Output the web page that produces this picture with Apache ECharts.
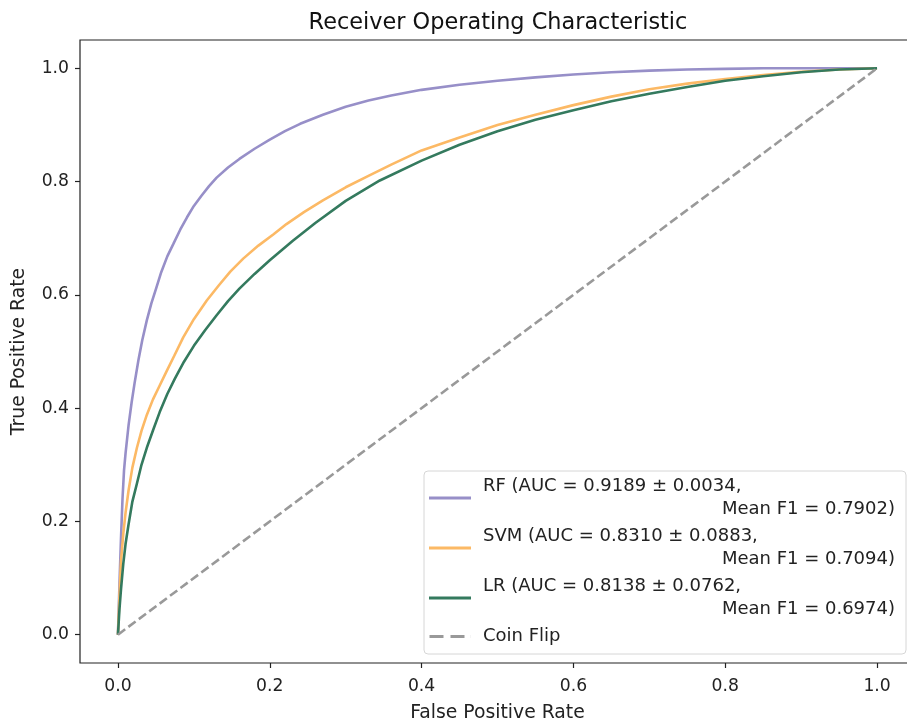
<!DOCTYPE html>
<html>
<head>
    <meta charset="utf-8">
    <title>ROC</title>
    <script src="https://cdn.jsdelivr.net/npm/echarts@6/dist/echarts.min.js"></script>
    <style>
        html, body { margin: 0; padding: 0; background: #fff; }
    </style>
</head>
<body>
    <div id="main" style="width: 907px;height:719px;"></div>
    <script type="text/javascript">
        // values
        var fprRF = [0, 0.002, 0.004, 0.006, 0.008, 0.01, 0.014, 0.018, 0.022, 0.027, 0.032, 0.038, 0.044, 0.05, 0.057, 0.065, 0.073, 0.082, 0.091, 0.1, 0.11, 0.12, 0.13, 0.145, 0.16, 0.18, 0.2, 0.22, 0.24, 0.27, 0.3, 0.33, 0.36, 0.4, 0.45, 0.5, 0.55, 0.6, 0.65, 0.7, 0.75, 0.8, 0.85, 0.9, 0.95, 1.0];
        var tprRF = [0, 0.09, 0.17, 0.24, 0.29, 0.32, 0.37, 0.41, 0.445, 0.485, 0.52, 0.555, 0.585, 0.61, 0.64, 0.668, 0.69, 0.715, 0.737, 0.757, 0.775, 0.792, 0.807, 0.825, 0.84, 0.858, 0.874, 0.889, 0.902, 0.918, 0.932, 0.943, 0.952, 0.962, 0.971, 0.978, 0.984, 0.989, 0.993, 0.996, 0.998, 0.999, 1.0, 1.0, 1.0, 1.0];

        var fprSVM = [0, 0.002, 0.004, 0.007, 0.01, 0.014, 0.019, 0.025, 0.031, 0.038, 0.046, 0.055, 0.064, 0.074, 0.086, 0.1, 0.117, 0.133, 0.148, 0.165, 0.185, 0.205, 0.222, 0.245, 0.27, 0.3, 0.33, 0.36, 0.4, 0.45, 0.5, 0.55, 0.6, 0.65, 0.7, 0.75, 0.8, 0.85, 0.9, 0.95, 1.0];
        var tprSVM = [0, 0.07, 0.13, 0.178, 0.215, 0.255, 0.295, 0.33, 0.36, 0.388, 0.415, 0.44, 0.465, 0.492, 0.525, 0.557, 0.59, 0.617, 0.641, 0.664, 0.687, 0.707, 0.725, 0.746, 0.767, 0.79, 0.81, 0.83, 0.855, 0.878, 0.9, 0.918, 0.935, 0.95, 0.963, 0.973, 0.981, 0.988, 0.994, 0.998, 1.0];

        var fprLR = [0, 0.002, 0.004, 0.007, 0.01, 0.014, 0.019, 0.025, 0.031, 0.038, 0.046, 0.055, 0.065, 0.075, 0.087, 0.1, 0.115, 0.13, 0.145, 0.16, 0.18, 0.2, 0.23, 0.26, 0.3, 0.345, 0.4, 0.45, 0.5, 0.55, 0.6, 0.65, 0.7, 0.75, 0.8, 0.85, 0.9, 0.95, 1.0];
        var tprLR = [0, 0.045, 0.08, 0.125, 0.16, 0.195, 0.235, 0.267, 0.3, 0.33, 0.36, 0.393, 0.425, 0.452, 0.482, 0.51, 0.538, 0.564, 0.589, 0.611, 0.637, 0.661, 0.695, 0.727, 0.766, 0.802, 0.837, 0.865, 0.889, 0.909, 0.926, 0.942, 0.955, 0.967, 0.978, 0.986, 0.993, 0.998, 1.0];

        var fprCoin = [0, 1];
        var tprCoin = [0, 1];

        var tickValues = [0, 0.2, 0.4, 0.6, 0.8, 1.0];

        var names = ['RF', 'SVM', 'LR', 'Coin Flip'];
        var line1 = ['RF (AUC = 0.9189 \u00b1 0.0034,', 'SVM (AUC = 0.8310 \u00b1 0.0883,', 'LR (AUC = 0.8138 \u00b1 0.0762,', 'Coin Flip'];
        var line2 = ['Mean F1 = 0.7902)', 'Mean F1 = 0.7094)', 'Mean F1 = 0.6974)', ''];
        var colors = ['#978fc8', '#fcb965', '#347a5e', '#999999'];

        // legend keys: plain line, and two dashes for the coin flip
        var solidIcon = 'path://M0,0H42V3H0Z';
        var dashIcon = 'path://M1,0H15V3H1Z M22,0H36V3H22Z M41.9,0H42V3H41.9Z';

        function pairs(xs, ys) {
            var out = [];
            for (var i = 0; i < xs.length; i++) out.push([xs[i], ys[i]]);
            return out;
        }

        var font = 'DejaVu Sans';
        var tickFont = 17.2;
        var legendFont = 18;
        var myChart = echarts.init(document.getElementById('main'));

        var option = {
            animation: false,
            textStyle: { fontFamily: font },
            title: {
                text: 'Receiver Operating Characteristic',
                left: 493,
                textAlign: 'center',
                top: 7,
                textStyle: { fontFamily: font, fontSize: 22.4, fontWeight: 'normal', color: '#111' }
            },
            grid: {
                left: 80, width: 835, top: 40, bottom: 56,
                outerBoundsMode: 'none',
                show: true, borderColor: '#222', borderWidth: 1.2,
                containLabel: false
            },
            legend: {
                orient: 'vertical',
                left: 424, top: 471,
                padding: [4, 11, 6, 5],
                itemWidth: 42, itemHeight: 3, itemGap: 4,
                backgroundColor: 'rgba(255,255,255,0.8)',
                borderColor: '#d6d6d6', borderWidth: 1, borderRadius: 4,
                data: names.map(function (n, i) {
                    return { name: n, icon: i === 3 ? dashIcon : solidIcon };
                }),
                formatter: function (name) {
                    var i = names.indexOf(name);
                    if (!line2[i]) return '{a|' + line1[i] + '}';
                    return '{a|' + line1[i] + '}\n{b|' + line2[i] + '}';
                },
                textStyle: {
                    fontFamily: font, fontSize: legendFont, lineHeight: 23, color: '#222', width: 412, padding: [0, 0, 0, 7],
                    rich: {
                        a: { fontFamily: font, fontSize: legendFont, lineHeight: 23, height: 23, color: '#222' },
                        b: { fontFamily: font, fontSize: legendFont, lineHeight: 23, height: 23, color: '#222', align: 'right' }
                    }
                }
            },
            xAxis: {
                type: 'value', min: -0.05, max: 1.05,
                name: 'False Positive Rate', nameLocation: 'middle', nameGap: 41,
                nameTextStyle: { fontFamily: font, fontSize: 18.8, color: '#222' },
                splitLine: { show: false },
                axisLine: { show: false, onZero: false },
                axisTick: { show: true, length: 5, customValues: tickValues, lineStyle: { color: '#222', width: 1.2 } },
                axisLabel: {
                    customValues: tickValues, fontFamily: font, fontSize: tickFont, color: '#222', margin: 15,
                    formatter: function (v) { return v.toFixed(1); }
                }
            },
            yAxis: {
                type: 'value', min: -0.05, max: 1.05,
                name: 'True Positive Rate', nameLocation: 'middle', nameGap: 51,
                nameTextStyle: { fontFamily: font, fontSize: 18.8, color: '#222' },
                splitLine: { show: false },
                axisLine: { show: false, onZero: false },
                axisTick: { show: true, length: 5, customValues: tickValues, lineStyle: { color: '#222', width: 1.2 } },
                axisLabel: {
                    customValues: tickValues, fontFamily: font, fontSize: tickFont, color: '#222', margin: 11,
                    formatter: function (v) { return v.toFixed(1); }
                }
            },
            series: [
                {
                    name: 'RF', type: 'line', data: pairs(fprRF, tprRF),
                    symbol: 'none',
                    lineStyle: { color: colors[0], width: 2.6 }, itemStyle: { color: colors[0] }
                },
                {
                    name: 'SVM', type: 'line', data: pairs(fprSVM, tprSVM),
                    symbol: 'none',
                    lineStyle: { color: colors[1], width: 2.6 }, itemStyle: { color: colors[1] }
                },
                {
                    name: 'LR', type: 'line', data: pairs(fprLR, tprLR),
                    symbol: 'none',
                    lineStyle: { color: colors[2], width: 2.6 }, itemStyle: { color: colors[2] }
                },
                {
                    name: 'Coin Flip', type: 'line', data: pairs(fprCoin, tprCoin),
                    symbol: 'none',
                    lineStyle: { color: colors[3], width: 2.6, type: [9, 4] }, itemStyle: { color: colors[3] }
                }
            ]
        };

        myChart.setOption(option);
    </script>
</body>
</html>
